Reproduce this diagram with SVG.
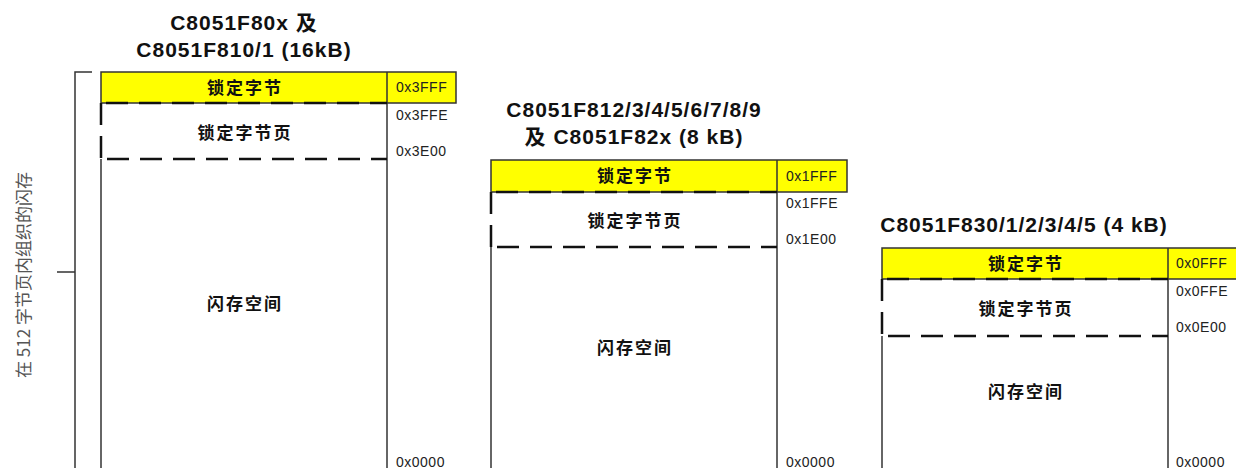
<svg xmlns="http://www.w3.org/2000/svg" width="1236" height="468" viewBox="0 0 1236 468">
<style>
.title{font-family:"Liberation Sans","Noto Sans CJK SC",sans-serif;font-weight:bold;font-size:21px;letter-spacing:1px;fill:#111;text-anchor:middle}
.lbl{font-family:"Noto Sans CJK SC",sans-serif;font-weight:bold;font-size:17px;letter-spacing:2px;fill:#111;text-anchor:middle}
.addr{font-family:"Liberation Sans",sans-serif;font-size:14px;letter-spacing:0.5px;fill:#222}
.side{font-family:"Noto Sans CJK SC",sans-serif;font-size:17px;fill:#555;text-anchor:middle}
.solid{stroke:#333;stroke-width:1.5;fill:none}
.dash{stroke:#111;stroke-width:2.5;stroke-dasharray:22 11;fill:none}
.yel{fill:#ffff00;stroke:#333;stroke-width:1.5}
</style>
<rect width="1236" height="468" fill="#fff"/>
<g id="bracket">
<path class="solid" d="M92 72 H75 V468 M75 272 H57"/>
<text class="side" transform="translate(30,275) rotate(-90)">在 512 字节页内组织的闪存</text>
</g>
<g id="col1">
<text class="title" x="244" y="30">C8051F80x 及</text>
<text class="title" x="244" y="57">C8051F810/1 (16kB)</text>
<rect class="yel" x="101" y="72" width="355" height="31"/>
<line class="solid" x1="387" y1="72" x2="387" y2="468"/>
<line class="solid" x1="101" y1="159" x2="101" y2="468"/>
<path class="dash" d="M106 103 H387 M107 159 H387 M101 103 V159"/>
<text class="lbl" x="245" y="94">锁定字节</text>
<text class="lbl" x="245" y="139">锁定字节页</text>
<text class="lbl" x="245" y="310">闪存空间</text>
<text class="addr" x="396" y="92">0x3FFF</text>
<text class="addr" x="396" y="120">0x3FFE</text>
<text class="addr" x="396" y="156">0x3E00</text>
<text class="addr" x="396" y="467">0x0000</text>
</g>
<g id="col2">
<text class="title" x="634" y="117">C8051F812/3/4/5/6/7/8/9</text>
<text class="title" x="634" y="144">及 C8051F82x (8 kB)</text>
<rect class="yel" x="491" y="160" width="356" height="32"/>
<line class="solid" x1="777" y1="160" x2="777" y2="468"/>
<line class="solid" x1="491" y1="247" x2="491" y2="468"/>
<path class="dash" d="M496 192 H777 M497 247 H777 M491 192 V247"/>
<text class="lbl" x="635" y="182">锁定字节</text>
<text class="lbl" x="635" y="227">锁定字节页</text>
<text class="lbl" x="635" y="354">闪存空间</text>
<text class="addr" x="786" y="181">0x1FFF</text>
<text class="addr" x="786" y="208">0x1FFE</text>
<text class="addr" x="786" y="244">0x1E00</text>
<text class="addr" x="786" y="467">0x0000</text>
</g>
<g id="col3">
<text class="title" x="1024" y="232">C8051F830/1/2/3/4/5 (4 kB)</text>
<rect class="yel" x="882" y="248" width="360" height="31"/>
<line class="solid" x1="1168" y1="248" x2="1168" y2="468"/>
<line class="solid" x1="882" y1="336" x2="882" y2="468"/>
<path class="dash" d="M887 279 H1168 M888 336 H1168 M882 279 V336"/>
<text class="lbl" x="1026" y="270">锁定字节</text>
<text class="lbl" x="1026" y="315">锁定字节页</text>
<text class="lbl" x="1026" y="398">闪存空间</text>
<text class="addr" x="1176" y="268">0x0FFF</text>
<text class="addr" x="1176" y="296">0x0FFE</text>
<text class="addr" x="1176" y="332">0x0E00</text>
<text class="addr" x="1176" y="467">0x0000</text>
</g>
</svg>
